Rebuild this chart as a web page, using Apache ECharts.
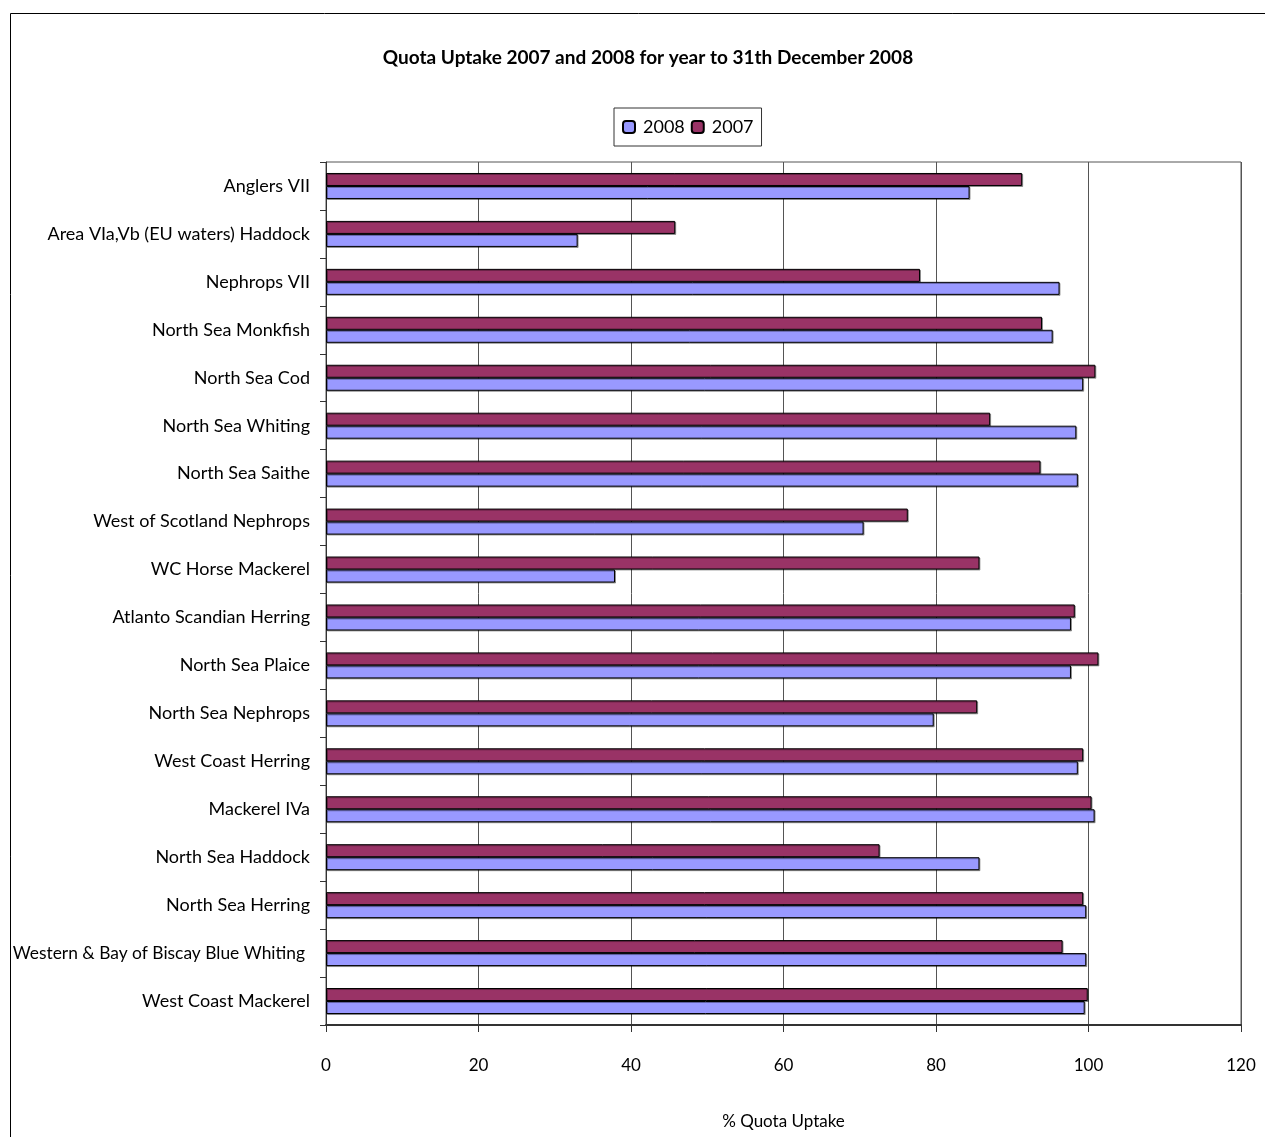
<!DOCTYPE html>
<html>
<head>
<meta charset="utf-8">
<script src="https://cdn.jsdelivr.net/npm/echarts@6/dist/echarts.min.js"></script>
<style>
  html, body { margin: 0; padding: 0; background: #fff; }
  #chart { width: 1265px; height: 1137px; }
</style>
</head>
<body>
<div id="chart"></div>
<script>
// Stocks, listed top to bottom
const categories = [
  'Anglers VII',
  'Area VIa,Vb (EU waters) Haddock',
  'Nephrops VII',
  'North Sea Monkfish',
  'North Sea Cod',
  'North Sea Whiting',
  'North Sea Saithe',
  'West of Scotland Nephrops',
  'WC Horse Mackerel',
  'Atlanto Scandian Herring',
  'North Sea Plaice',
  'North Sea Nephrops',
  'West Coast Herring',
  'Mackerel IVa',
  'North Sea Haddock',
  'North Sea Herring',
  'Western & Bay of Biscay Blue Whiting',
  'West Coast Mackerel'
];

// % quota uptake per stock
const uptake2008 = [84.4, 33.0, 96.2, 95.3, 99.3, 98.4, 98.6, 70.5, 37.9, 97.7,
                    97.7, 79.7, 98.6, 100.8, 85.7, 99.7, 99.7, 99.5];
const uptake2007 = [91.3, 45.8, 77.9, 93.9, 100.9, 87.1, 93.7, 76.3, 85.7, 98.2,
                    101.3, 85.4, 99.3, 100.4, 72.6, 99.3, 96.6, 99.9];

const xTicks = [0, 20, 40, 60, 80, 100, 120];

const FONT = 'Lato, "Open Sans", sans-serif';

const chart = echarts.init(document.getElementById('chart'), null, { renderer: 'canvas' });

const barStyle = (color) => ({
  color: color,
  borderColor: '#000',
  borderWidth: 1,
  shadowColor: 'rgba(0,0,0,0.35)',
  shadowOffsetX: 1,
  shadowOffsetY: 1,
  shadowBlur: 0
});

// the longest stock name is set a touch smaller and nudged left of the others
const categoryItems = categories.map((name) =>
  name.length > 32
    ? { value: name, textStyle: { fontSize: 17.4, padding: [0, 5, 0, 0] } }
    : name
);

chart.setOption({
  backgroundColor: '#fff',
  animation: false,
  title: {
    text: 'Quota Uptake 2007 and 2008 for year to 31th December 2008',
    left: 643,
    textAlign: 'center',
    top: 43,
    textStyle: { fontFamily: FONT, fontSize: 19, fontWeight: 'bold', color: '#000' }
  },
  legend: {
    data: ['2008', '2007'],
    left: 614,
    top: 108,
    padding: [10, 8, 10, 8],
    borderColor: '#333',
    borderWidth: 1,
    itemWidth: 12,
    itemHeight: 12,
    itemGap: 6,
    textStyle: { fontFamily: FONT, fontSize: 18, color: '#000', padding: [0, 0, 0, 3] }
  },
  graphic: [{
    type: 'rect',
    shape: { x: 10.5, y: 13.5, width: 1300, height: 1200 },
    style: { fill: 'none', stroke: '#000', lineWidth: 1 },
    silent: true,
    z: -1
  }],
  grid: {
    left: 326,
    right: 24,
    top: 162,
    bottom: 112,
    show: true,
    borderColor: '#555',
    borderWidth: 1,
    backgroundColor: 'transparent'
  },
  xAxis: {
    type: 'value',
    min: xTicks[0],
    max: xTicks[xTicks.length - 1],
    interval: xTicks[1] - xTicks[0],
    name: '% Quota Uptake',
    nameLocation: 'middle',
    nameGap: 88,
    nameTextStyle: { fontFamily: FONT, fontSize: 17, color: '#000' },
    axisLine: { show: true, lineStyle: { color: '#333', width: 2 } },
    axisTick: { show: true, length: 7, lineStyle: { color: '#333' } },
    axisLabel: { fontFamily: FONT, fontSize: 17, color: '#000', margin: 32 },
    splitLine: { show: true, lineStyle: { color: '#555', width: 1 } }
  },
  yAxis: {
    type: 'category',
    data: categoryItems,
    inverse: true,
    axisLine: { show: true, lineStyle: { color: '#333', width: 1 } },
    axisTick: { show: true, length: 6, inside: false, lineStyle: { color: '#333' } },
    axisLabel: { fontFamily: FONT, fontSize: 18, color: '#000', margin: 16 },
    splitLine: { show: false }
  },
  series: [
    {
      name: '2007',
      type: 'bar',
      data: uptake2007,
      barWidth: 13,
      barGap: '0%',
      itemStyle: barStyle('#993366')
    },
    {
      name: '2008',
      type: 'bar',
      data: uptake2008,
      barWidth: 13,
      barGap: '0%',
      itemStyle: barStyle('#9999FF')
    }
  ]
});
</script>
</body>
</html>
